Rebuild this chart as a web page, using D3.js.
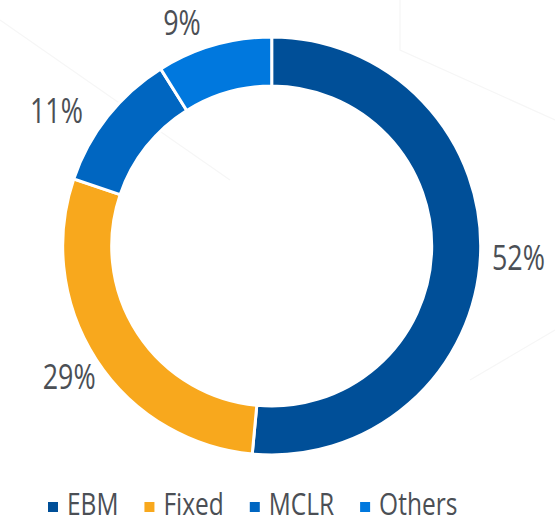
<!DOCTYPE html>
<html>
<head>
<meta charset="utf-8">
<script src="https://cdn.jsdelivr.net/npm/d3@7/dist/d3.min.js"></script>
<style>
  html, body { margin: 0; padding: 0; background: #ffffff; }
  svg { display: block; }
</style>
</head>
<body>
<svg id="chart" width="555" height="524"></svg>
<script>
// ---- data ----
const categories = ["EBM", "Fixed", "MCLR", "Others"];
const values = [52, 29, 11, 9];
const labels = ["52%", "29%", "11%", "9%"];
const colors = ["#004f98", "#f8a81d", "#0066c1", "#0078de"];

// ---- layout ----
const W = 555, H = 524;
const cx = 271.7, cy = 246;
const outerR = 209, innerR = 160;
const labelR = 245;
const labelNudge = [[2, 0], [3, -2], [-23, 17], [-22, 12]];
const textColor = "#4b4f55";
const fontFamily = "'Open Sans', 'Liberation Sans', sans-serif";
const squeeze = 0.79;

const svg = d3.select("#chart");

// faint background geometry
const bg = svg.append("g").attr("fill", "none").attr("stroke", "#f6f6f6").attr("stroke-width", 1.2);
bg.append("path").attr("d", "M400,0 L400,50 L555,120");
bg.append("path").attr("d", "M470,380 L555,330");
bg.append("path").attr("d", "M0,20 L230,180");

const pie = d3.pie().value(d => d).sort(null);
const arcs = pie(values);
const arc = d3.arc().innerRadius(innerR).outerRadius(outerR);

const g = svg.append("g").attr("transform", `translate(${cx},${cy})`);
g.selectAll("path.slice")
  .data(arcs)
  .join("path")
  .attr("class", "slice")
  .attr("d", arc)
  .attr("fill", (d, i) => colors[i])
  .attr("stroke", "#ffffff")
  .attr("stroke-width", 3)
  .attr("stroke-linejoin", "miter");

// data labels
const labelFont = 34;
const labelArc = d3.arc().innerRadius(labelR).outerRadius(labelR);
g.selectAll("g.lbl")
  .data(arcs)
  .join("g")
  .attr("class", "lbl")
  .attr("transform", (d, i) => {
    const [x, y] = labelArc.centroid(d);
    const nx = x + labelNudge[i][0];
    const ny = y + labelNudge[i][1] + labelFont * 0.714 / 2;
    return `translate(${nx},${ny}) scale(${squeeze},1)`;
  })
  .append("text")
  .attr("text-anchor", "middle")
  .attr("font-family", fontFamily)
  .attr("font-size", labelFont)
  .attr("fill", textColor)
  .text((d, i) => labels[i]);

// legend
const legendFont = 31;
const legendY = 515;
const legend = svg.append("g");
let lx = 48;
categories.forEach((c, i) => {
  legend.append("rect")
    .attr("x", lx).attr("y", legendY - 13)
    .attr("width", 10).attr("height", 10)
    .attr("fill", colors[i]);
  const tg = legend.append("g").attr("transform", `translate(${lx + 19},${legendY}) scale(${squeeze},1)`);
  const t = tg.append("text")
    .attr("font-family", fontFamily)
    .attr("font-size", legendFont)
    .attr("fill", textColor)
    .text(c);
  const w = t.node().getComputedTextLength() * squeeze;
  lx = lx + 19 + w + 26;
});
</script>
</body>
</html>
